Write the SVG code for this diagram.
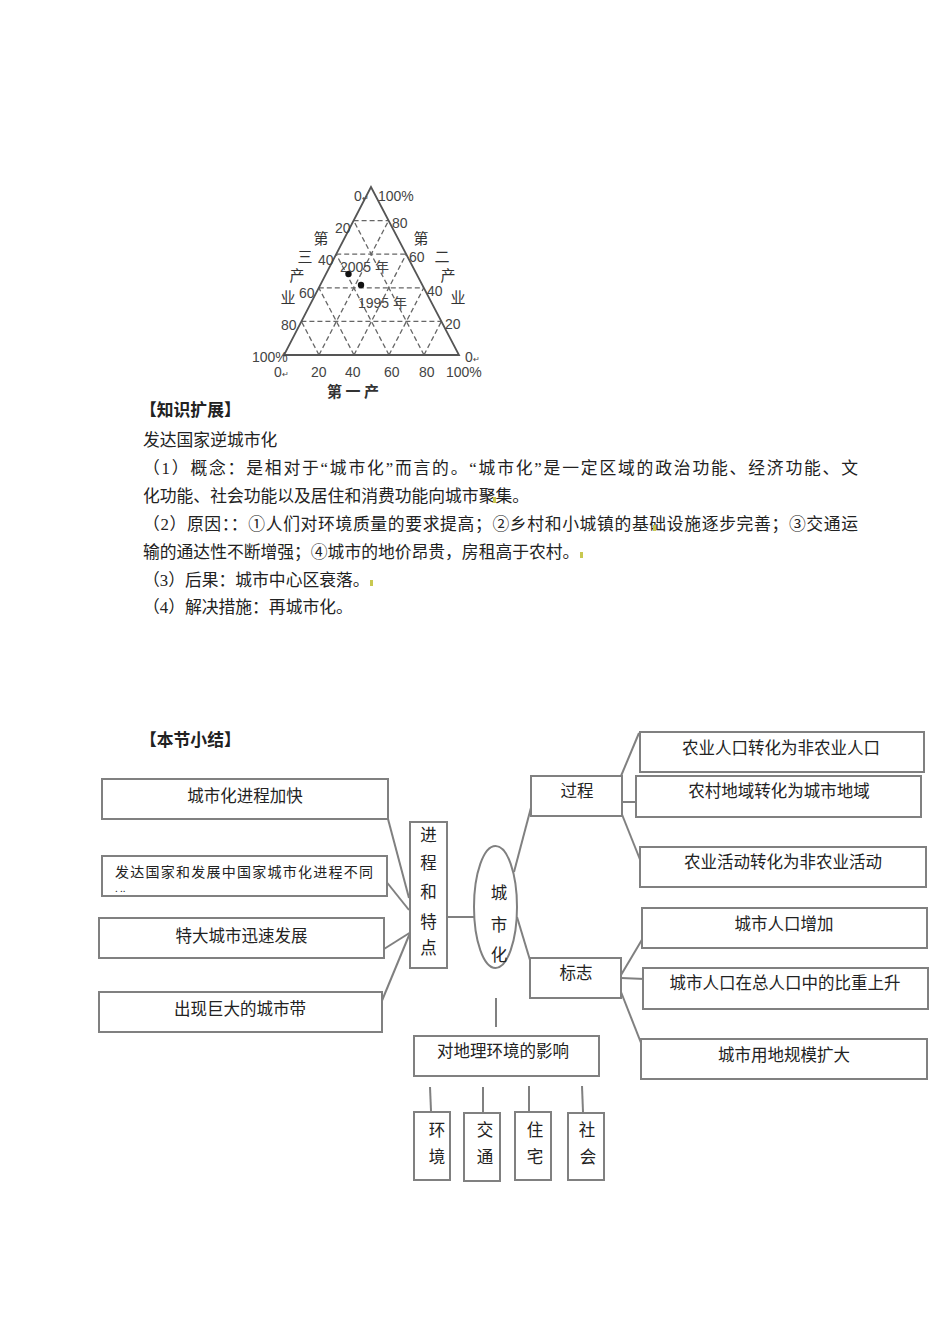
<svg xmlns="http://www.w3.org/2000/svg" width="950" height="1344" viewBox="0 0 950 1344">
<style>
.t{font-family:"Liberation Serif","Noto Sans CJK SC",serif;font-size:16.8px;fill:#222}
.b{font-weight:bold}
.m{font-family:"Noto Sans CJK SC",sans-serif;font-size:16.5px;fill:#222;text-anchor:middle}
.ms{font-family:"Noto Sans CJK SC",sans-serif;fill:#222;text-anchor:start}
.box{fill:#fff;stroke:#808080;stroke-width:2}
.cn{stroke:#808080;stroke-width:2;fill:none}
.tri{fill:none;stroke:#555;stroke-width:1.8}
.grid{stroke:#666;stroke-width:1.3;stroke-dasharray:5 3;fill:none}
.lab{font-family:"Liberation Sans","Noto Sans CJK SC",sans-serif;font-size:14px;fill:#444}
.big{font-family:"Noto Sans CJK SC",sans-serif;font-size:15px;fill:#333;text-anchor:middle}
.mark{fill:#c8c850}
</style>
<rect width="950" height="1344" fill="#fff"/>

<g id="ternary">
<g class="grid">
<line x1="301.4" y1="321.4" x2="441.4" y2="321.4"/>
<line x1="318.8" y1="287.8" x2="423.8" y2="287.8"/>
<line x1="336.2" y1="254.2" x2="406.2" y2="254.2"/>
<line x1="353.6" y1="220.6" x2="388.6" y2="220.6"/>
<line x1="319" y1="355" x2="388.6" y2="220.6"/>
<line x1="354" y1="355" x2="406.2" y2="254.2"/>
<line x1="389" y1="355" x2="423.8" y2="287.8"/>
<line x1="424" y1="355" x2="441.4" y2="321.4"/>
<line x1="319" y1="355" x2="301.4" y2="321.4"/>
<line x1="354" y1="355" x2="318.8" y2="287.8"/>
<line x1="389" y1="355" x2="336.2" y2="254.2"/>
<line x1="424" y1="355" x2="353.6" y2="220.6"/>
</g>
<polygon class="tri" points="371,187 284,355 459,355"/>
<circle cx="348.5" cy="274" r="3.2" fill="#111"/>
<circle cx="361" cy="285" r="3.2" fill="#111"/>
<text class="lab" x="340" y="272">2005 年</text>
<text class="lab" x="358" y="308">1995 年</text>
<text class="lab" x="354" y="201">0<tspan font-size="8">↵</tspan></text>
<text class="lab" x="378" y="201">100%</text>
<text class="lab" x="335" y="233">20</text>
<text class="lab" x="318" y="265">40</text>
<text class="lab" x="299" y="298">60</text>
<text class="lab" x="281" y="330">80</text>
<text class="lab" x="252" y="362">100%</text>
<text class="lab" x="392" y="228">80</text>
<text class="lab" x="409" y="262">60</text>
<text class="lab" x="427" y="296">40</text>
<text class="lab" x="445" y="329">20</text>
<text class="lab" x="465" y="362">0<tspan font-size="8">↵</tspan></text>
<text class="lab" x="274" y="377">0<tspan font-size="8">↵</tspan></text>
<text class="lab" x="311" y="377">20</text>
<text class="lab" x="345" y="377">40</text>
<text class="lab" x="384" y="377">60</text>
<text class="lab" x="419" y="377">80</text>
<text class="lab" x="446" y="377">100%</text>
<text class="big" x="321" y="244">第</text>
<text class="big" x="305" y="262">三</text>
<text class="big" x="297" y="281">产</text>
<text class="big" x="288" y="303">业</text>
<text class="big" x="421" y="244">第</text>
<text class="big" x="442" y="262">二</text>
<text class="big" x="448" y="281">产</text>
<text class="big" x="458" y="303">业</text>
<text class="big" x="353" y="397" font-size="14" font-weight="bold" fill="#444">第 一 产</text>
</g>

<g id="text-block">
<text class="t b" x="140" y="416">【知识扩展】</text>
<text class="t" x="143" y="446">发达国家逆城市化</text>
<text class="t" x="143" y="474" textLength="715" lengthAdjust="spacing">（1）概念：是相对于“城市化”而言的。“城市化”是一定区域的政治功能、经济功能、文</text>
<text class="t" x="143" y="502">化功能、社会功能以及居住和消费功能向城市聚集。</text>
<text class="t" x="143" y="530" textLength="715" lengthAdjust="spacing">（2）原因：：①人们对环境质量的要求提高；②乡村和小城镇的基础设施逐步完善；③交通运</text>
<text class="t" x="143" y="558">输的通达性不断增强；④城市的地价昂贵，房租高于农村。</text>
<text class="t" x="143" y="586">（3）后果：城市中心区衰落。</text>
<text class="t" x="143" y="613">（4）解决措施：再城市化。</text>
<rect class="mark" x="493" y="497" width="3" height="6"/>
<rect class="mark" x="653" y="525" width="3" height="6"/>
<rect class="mark" x="580" y="552" width="3" height="6"/>
<rect class="mark" x="370" y="580" width="3" height="6"/>
<text class="t b" x="140" y="746">【本节小结】</text>
</g>

<g id="connectors">
<line class="cn" x1="388" y1="819" x2="409" y2="898"/>
<line class="cn" x1="385" y1="880" x2="409" y2="910"/>
<line class="cn" x1="384" y1="949" x2="411" y2="932"/>
<line class="cn" x1="381" y1="1003" x2="410" y2="933"/>
<line class="cn" x1="447" y1="917" x2="474" y2="917"/>
<line class="cn" x1="514" y1="872" x2="533" y2="800"/>
<line class="cn" x1="517" y1="917" x2="533" y2="970"/>
<line class="cn" x1="496" y1="998" x2="496" y2="1027"/>
<line class="cn" x1="621" y1="776" x2="639" y2="733"/>
<line class="cn" x1="621" y1="802" x2="636" y2="802"/>
<line class="cn" x1="621" y1="812" x2="641" y2="862"/>
<line class="cn" x1="621" y1="975" x2="643" y2="938"/>
<line class="cn" x1="621" y1="978" x2="645" y2="979"/>
<line class="cn" x1="621" y1="992" x2="645" y2="1053"/>
<line class="cn" x1="430" y1="1087" x2="431" y2="1111"/>
<line class="cn" x1="483" y1="1087" x2="483" y2="1113"/>
<line class="cn" x1="529" y1="1086" x2="529" y2="1111"/>
<line class="cn" x1="582" y1="1086" x2="583" y2="1112"/>
</g>

<g id="n-jincheng-jiakuai"><rect class="box" x="102" y="779" width="286" height="40"/><text class="m" x="245" y="802">城市化进程加快</text></g>
<g id="n-butong"><rect class="box" x="102" y="856" width="285" height="40"/><text class="ms" x="115" y="877" font-size="14" textLength="258" lengthAdjust="spacing">发达国家和发展中国家城市化进程不同</text><text class="ms" x="115" y="892" font-size="10">. ..</text></g>
<g id="n-teda"><rect class="box" x="99" y="918" width="285" height="40"/><text class="m" x="241.5" y="942">特大城市迅速发展</text></g>
<g id="n-chengshidai"><rect class="box" x="99" y="992" width="283" height="40"/><text class="m" x="240" y="1015">出现巨大的城市带</text></g>
<g id="n-jincheng-tedian"><rect class="box" x="410" y="822" width="37" height="146"/>
<text class="m" x="428.5" y="841">进</text><text class="m" x="428.5" y="869">程</text><text class="m" x="428.5" y="898">和</text><text class="m" x="428.5" y="928">特</text><text class="m" x="428.5" y="954">点</text></g>
<g id="n-chengshihua"><ellipse class="box" cx="495.5" cy="907" rx="21.5" ry="61"/>
<text class="m" x="499" y="899">城</text><text class="m" x="499" y="931">市</text><text class="m" x="499" y="961">化</text></g>
<g id="n-guocheng"><rect class="box" x="531" y="776" width="91" height="40"/><text class="m" x="577" y="797">过程</text></g>
<g id="n-biaozhi"><rect class="box" x="530" y="958" width="91" height="40"/><text class="m" x="576" y="979">标志</text></g>
<g id="n-yingxiang"><rect class="box" x="414" y="1036" width="185" height="40"/><text class="m" x="503" y="1057">对地理环境的影响</text></g>
<g id="n-r1"><rect class="box" x="640" y="732" width="284" height="40"/><text class="m" x="781" y="754">农业人口转化为非农业人口</text></g>
<g id="n-r2"><rect class="box" x="636" y="776" width="285" height="41"/><text class="m" x="779" y="797">农村地域转化为城市地域</text></g>
<g id="n-r3"><rect class="box" x="640" y="847" width="286" height="40"/><text class="m" x="783" y="868">农业活动转化为非农业活动</text></g>
<g id="n-r4"><rect class="box" x="642" y="908" width="285" height="40"/><text class="m" x="784" y="930">城市人口增加</text></g>
<g id="n-r5"><rect class="box" x="643" y="968" width="285" height="41"/><text class="m" x="785" y="989">城市人口在总人口中的比重上升</text></g>
<g id="n-r6"><rect class="box" x="641" y="1039" width="286" height="40"/><text class="m" x="784" y="1061">城市用地规模扩大</text></g>
<g id="n-huanjing"><rect class="box" x="414" y="1112" width="36" height="68"/><text class="m" x="437" y="1136">环</text><text class="m" x="437" y="1163">境</text></g>
<g id="n-jiaotong"><rect class="box" x="464" y="1113" width="36" height="68"/><text class="m" x="485" y="1136">交</text><text class="m" x="485" y="1163">通</text></g>
<g id="n-zhuzhai"><rect class="box" x="515" y="1112" width="36" height="68"/><text class="m" x="535" y="1136">住</text><text class="m" x="535" y="1163">宅</text></g>
<g id="n-shehui"><rect class="box" x="568" y="1113" width="36" height="67"/><text class="m" x="587" y="1136">社</text><text class="m" x="588" y="1163">会</text></g>
</svg>
